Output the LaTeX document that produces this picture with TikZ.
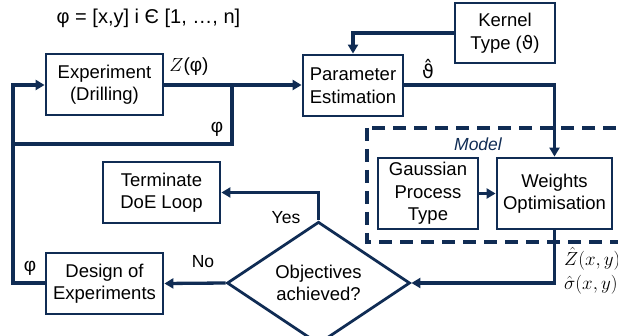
\RequirePackage{fix-cm}
\documentclass[tikz,border=0pt]{standalone}
\usepackage{fontspec}
\setmainfont{Liberation Sans}
\newfontfamily\symfont{DejaVu Sans}
\usetikzlibrary{arrows.meta,shapes.geometric}
\definecolor{navy}{HTML}{102C54}
\tikzset{
  box/.style={draw=navy, line width=2.8pt, align=center, inner sep=0pt,
    font=\fontsize{18.5}{22.5}\selectfont, text=black},
  flow/.style={draw=navy, line width=3.3pt},
  arr/.style={flow, -{Triangle[length=9pt,width=10pt]}},
  lbl/.style={font=\fontsize{19}{22}\selectfont, text=black, inner sep=0pt},
  mlbl/.style={font=\fontsize{19}{21}\selectfont, text=black, inner sep=0pt},
}
\begin{document}
\begin{tikzpicture}[x=1pt,y=-1pt]
\useasboundingbox (0,0) rectangle (618,336);

% model frame
\draw[navy, line width=3.3pt, dash pattern=on 13pt off 8pt] (367,128) rectangle (640,242);
\node[font=\fontsize{17.5}{20}\selectfont\itshape, text=navy, inner sep=0pt] (modellbl) at (478,144) {Model};

% blocks
\node[box, minimum width=117pt, minimum height=61pt] (exp) at (104.5,84.5) {Experiment\\(Drilling)};
\node[box, minimum width=100pt, minimum height=61pt] (par) at (353,85.5) {Parameter\\Estimation};
\node[box, minimum width=100pt, minimum height=60pt] (ker) at (505,33) {Kernel\\Type ({\symfont ϑ})};
\node[box, minimum width=100pt, minimum height=71pt] (gp) at (428,193.5) {Gaussian\\Process\\Type};
\node[box, minimum width=115pt, minimum height=71pt] (wo) at (554.5,193.5) {Weights\\Optimisation};
\node[box, minimum width=117pt, minimum height=61pt] (term) at (161.5,192.5) {Terminate\\DoE Loop};
\node[box, minimum width=117pt, minimum height=61pt] (doe) at (104.5,283.5) {Design of\\Experiments};
\node[box, diamond, minimum width=183pt, minimum height=100pt] (obj) at (318.5,283) {Objectives\\achieved?};

% helper points
\coordinate (jz) at (232,85);
\coordinate (jzb) at (232,144);
\coordinate (lb) at (13,144);
\coordinate (ll) at (13,283);
\coordinate (lt) at (13,85);

% connectors
\draw[arr] (exp.east |- jz) -- (par.west |- jz);
\draw[flow, line join=miter] (jz) -- (jzb) -- (lb);
\draw[arr, line join=miter] (doe.west |- ll) -- (ll) -- (lt) -- (exp.west |- lt);
\draw[arr, line join=miter] (ker.west) -| (par.north);
\draw[arr, line join=miter] (par.east |- jz) -| (wo.north);
\draw[arr] (gp.east) -- (wo.west);
\draw[arr, line join=miter] (wo.south) |- (obj.east);
\draw[arr, line join=miter] (obj.north) |- (term.east);
\draw[arr] (obj.west) -- (doe.east);

% labels
\node[lbl, font=\fontsize{20}{22}\selectfont] (title) at (148.5,18) {φ = [x,y] i Є [1, …, n]};
\node[mlbl] (zl) at (189,67) {$Z$(φ)};
\node[lbl] (phi1) at (217,129) {φ};
\node[lbl] (phi2) at (30,268) {φ};
\node[mlbl] (th) at (428,69) {\symfont ϑ̂};
\node[font=\rmfamily\fontsize{17.5}{20}\selectfont, inner sep=0pt] (yes) at (286,218) {Yes};
\node[font=\rmfamily\fontsize{17.5}{20}\selectfont, inner sep=0pt] (no) at (203,262) {No};
\node[mlbl, anchor=west] (zh) at (564,259) {$\hat{Z}(x,y)$};
\node[mlbl, anchor=west] (sh) at (564,285) {$\hat{\sigma}(x,y)$};
\end{tikzpicture}
\end{document}
